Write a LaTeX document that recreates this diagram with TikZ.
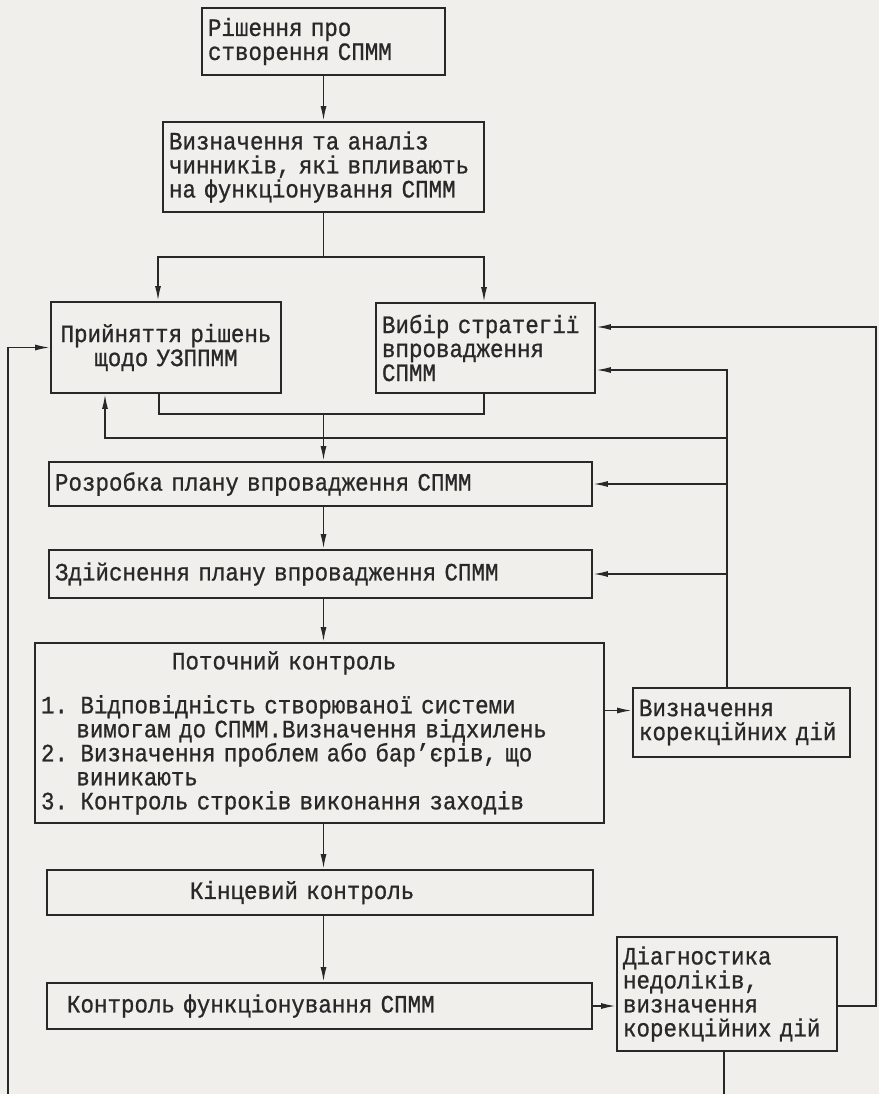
\documentclass[tikz,border=0pt]{standalone}
\usepackage{fontspec}
\usetikzlibrary{arrows.meta,positioning}
\newfontfamily\boxfont[FakeStretch=0.9,FakeBold=0.8]{Liberation Mono}
\definecolor{paper}{RGB}{241,239,235}
\definecolor{ink}{RGB}{40,40,40}

\begin{document}
\begin{tikzpicture}[
  x=1pt, y=-1pt,
  font=\boxfont\fontsize{25}{24}\selectfont,
  box/.style={draw=ink, line width=1.9pt, align=left, inner xsep=6pt, inner ysep=0pt, text=ink},
  flow/.style={-{Latex[length=15pt,width=6pt]}, line width=1.7pt, draw=ink},
  link/.style={line width=1.7pt, draw=ink}
]
\fill[paper] (0,0) rectangle (879,1094);
\useasboundingbox (0,0) rectangle (879,1094);

% main column
\node[box, minimum width=243pt, minimum height=67pt, text width=231pt] (decide) at (323.5,41.5)
  {Рішення про\\створення СПММ};
\node[box, minimum width=321pt, minimum height=90pt, text width=309pt] (factors) at (323.5,167)
  {Визначення та аналіз\\чинників, які впливають\\на функціонування СПММ};
\node[box, align=center, minimum width=230pt, minimum height=91pt, text width=218pt] (accept) at (166,347.5)
  {Прийняття рішень\\щодо УЗППММ};
\node[box, minimum width=219pt, minimum height=90pt, text width=207pt] (strategy) at (485.5,348)
  {Вибір стратегії\\впровадження\\СПММ};
\node[box, minimum width=543pt, minimum height=44pt, text width=531pt] (plan) at (320.5,484)
  {Розробка плану впровадження СПММ};
\node[box, minimum width=543pt, minimum height=48pt, text width=531pt] (impl) at (320.5,574)
  {Здійснення плану впровадження СПММ};
\node[box, minimum width=569pt, minimum height=180pt, text width=557pt] (current) at (319.5,733)
  {\hspace*{131pt}Поточний контроль\\[20pt]
   1. Відповідність створюваної системи\\
   \phantom{1.}~вимогам до СПММ.Визначення відхилень\\
   2. Визначення проблем або бар’єрів, що\\
   \phantom{2.}~виникають\\
   3. Контроль строків виконання заходів};
\node[box, minimum width=546pt, minimum height=45pt, text width=534pt] (final) at (320,892.5)
  {\hspace*{137pt}Кінцевий контроль};
\node[box, minimum width=545pt, minimum height=46pt, text width=533pt] (monitor) at (319.5,1006)
  {\hspace*{14pt}Контроль функціонування СПММ};

% side boxes
\node[box, minimum width=217pt, minimum height=69pt, text width=205pt] (corr) at (741.5,722.5)
  {Визначення\\корекційних дій};
\node[box, minimum width=220pt, minimum height=114pt, text width=208pt] (diag) at (727,994)
  {Діагностика\\недоліків,\\визначення\\корекційних дій};

\coordinate (split) at (323.5,257);
\coordinate (merge) at (323.5,414);
\coordinate (fbx) at (727,370);
\coordinate (back) at (105,438);
\coordinate (rail) at (876,327);
\coordinate (cw) at ([yshift=12pt]corr.west);
\coordinate (diagout) at (724,1094);
\coordinate (leftin) at (8,1094);

\draw[flow] (decide.south) -- (factors.north);
\draw[link] (factors.south) -- (split);
\draw[flow] (split) -| ([xshift=-8pt]accept.north);
\draw[flow] (split) -| ([xshift=-1.5pt]strategy.north);
\draw[link] ([xshift=-7pt]accept.south) |- (merge);
\draw[link] ([xshift=-1.5pt]strategy.south) |- (merge);
\draw[flow] (merge) -- (merge |- plan.north);
\draw[flow] (plan.south -| merge) -- (impl.north -| merge);
\draw[flow] (impl.south -| merge) -- (current.north -| merge);
\draw[flow] (current.south -| merge) -- (final.north -| merge);
\draw[flow] (final.south -| merge) -- (monitor.north -| merge);

% corrections back into the plan
\draw[flow] (cw -| current.east) -- (cw);
\draw[flow] (corr.north -| fbx) -- (fbx) -- (fbx -| strategy.east);
\draw[flow] (fbx |- plan.east) -- (plan.east);
\draw[flow] (fbx |- impl.east) -- (impl.east);
\draw[flow] (fbx |- back) -- (back) -- (back |- accept.south);

% diagnostics loop
\draw[flow] (monitor.east) -- (monitor.east -| diag.west);
\draw[flow] (diag.east |- monitor.east) -- (rail |- monitor.east) -- (rail) -- (rail -| strategy.east);
\draw[link] (diag.south -| diagout) -- (diagout);
\draw[flow] (leftin) |- (accept.west);
\end{tikzpicture}
\end{document}
